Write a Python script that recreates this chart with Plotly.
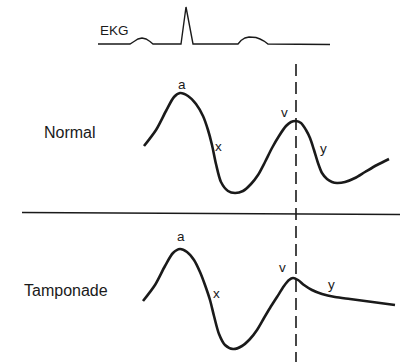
import plotly.graph_objects as go

# ---- data (time units along x, pressure/voltage units along y; y grows downward) ----
ekg_t = [98, 130, 134, 138, 142, 146, 150, 153, 181, 186, 193, 238, 241, 245, 249, 252, 256, 260, 264, 268, 330]
ekg_v = [44, 44, 41.5, 39, 38, 39, 41.5, 44, 44, 7, 44, 44, 40.5, 38, 37, 37, 37.5, 39, 41, 44, 44.5]

normal_t = [144, 156, 166, 174, 180, 188, 196, 203, 208, 212, 216, 221, 228, 235, 243, 251, 258, 265, 272, 279, 286, 291, 296,
            301, 306, 310, 314, 318, 322, 327, 332, 337, 345, 355, 365, 377, 389]
normal_p = [146, 130, 111, 97, 93, 96, 104, 116, 130, 145, 164, 182, 191, 193, 191, 184, 175, 162, 148, 136, 126, 122, 121,
            123, 130, 138, 150, 163, 173, 179, 182, 183, 182, 178, 172, 165, 159]

tamp_t = [143, 155, 165, 173, 180, 187, 194, 200, 205, 210, 214, 219, 225, 233, 242, 250, 257, 264, 270, 277, 284, 289, 293,
          298, 304, 312, 322, 335, 350, 365, 380, 395]
tamp_p = [301, 285, 266, 253, 249, 252, 260, 272, 285, 300, 316, 334, 345, 349, 346, 339, 330, 318, 308, 297, 286, 280, 278,
          280, 285, 290, 294, 297, 299, 301, 303, 305]

v_time = 296  # timing of v wave (dashed marker)

labels = ["EKG", "Normal", "Tamponade"]
wave_labels = ["a", "x", "v", "y"]
normal_label_t = [182, 218, 284, 323]
normal_label_p = [84, 146, 112, 148]
tamp_label_t = [181, 216, 282, 331]
tamp_label_p = [236, 293, 267, 284]

fig = go.Figure()

ink = "#1a1a1a"

fig.add_trace(go.Scatter(x=ekg_t, y=ekg_v, mode="lines", line=dict(color=ink, width=1.4, shape="linear"),
                         hoverinfo="skip", showlegend=False))
fig.add_trace(go.Scatter(x=normal_t, y=normal_p, mode="lines", line=dict(color=ink, width=2.6, shape="spline", smoothing=0.8),
                         hoverinfo="skip", showlegend=False))
fig.add_trace(go.Scatter(x=tamp_t, y=tamp_p, mode="lines", line=dict(color=ink, width=2.6, shape="spline", smoothing=0.8),
                         hoverinfo="skip", showlegend=False))
# dashed timing line
fig.add_trace(go.Scatter(x=[v_time, v_time], y=[64, 362], mode="lines",
                         line=dict(color=ink, width=1.6, dash="12px,6px"), hoverinfo="skip", showlegend=False))
# separator
fig.add_trace(go.Scatter(x=[22, 400], y=[212.5, 214.5], mode="lines",
                         line=dict(color=ink, width=1.5), hoverinfo="skip", showlegend=False))

font = "Liberation Sans, Arial, Helvetica, sans-serif"
ann = []
ann.append(dict(x=98, y=30, text=labels[0], xanchor="left", yanchor="middle", showarrow=False,
                font=dict(family=font, size=13.5, color=ink)))
ann.append(dict(x=42, y=132, text=labels[1], xanchor="left", yanchor="middle", showarrow=False,
                font=dict(family=font, size=16, color=ink)))
ann.append(dict(x=22, y=290, text=labels[2], xanchor="left", yanchor="middle", showarrow=False,
                font=dict(family=font, size=16, color=ink)))
for lab, t, p in zip(wave_labels, normal_label_t, normal_label_p):
    ann.append(dict(x=t, y=p, text=lab, showarrow=False, xanchor="center", yanchor="middle",
                    font=dict(family=font, size=13.5, color=ink)))
for lab, t, p in zip(wave_labels, tamp_label_t, tamp_label_p):
    ann.append(dict(x=t, y=p, text=lab, showarrow=False, xanchor="center", yanchor="middle",
                    font=dict(family=font, size=13.5, color=ink)))

fig.update_layout(
    width=411, height=362,
    margin=dict(l=0, r=0, t=0, b=0),
    paper_bgcolor="white", plot_bgcolor="white",
    xaxis=dict(range=[0, 411], visible=False, fixedrange=True),
    yaxis=dict(range=[362, 0], visible=False, fixedrange=True),
    annotations=ann,
)

fig.write_html("out.html", config={"displayModeBar": False})
